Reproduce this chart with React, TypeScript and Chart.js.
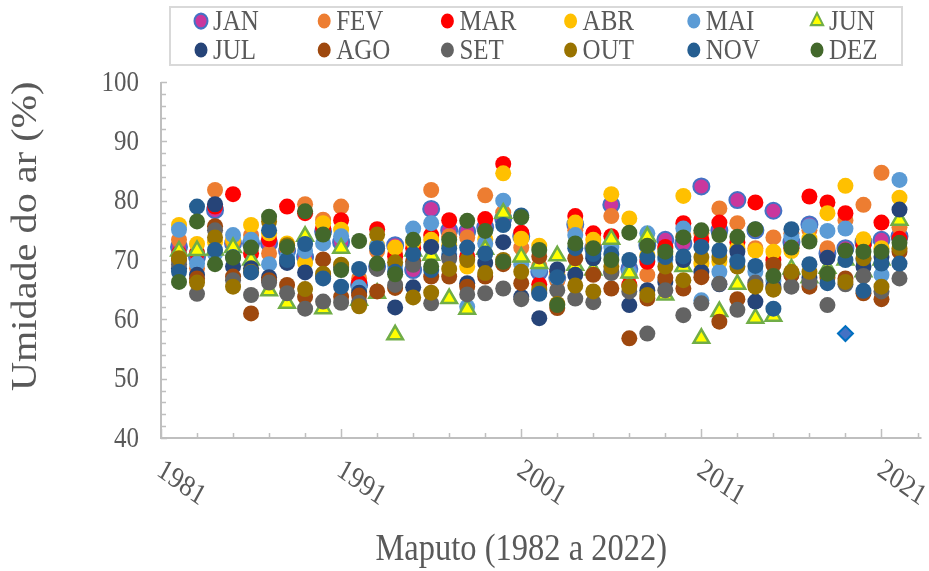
import React, { useEffect, useRef } from "react";
import { Chart, registerables } from "chart.js";
import { drawPoint } from "chart.js/helpers";

Chart.register(...registerables);

// ---------- DATA ----------
const YEARS = [
  1982, 1983, 1984, 1985, 1986, 1987, 1988, 1989, 1990, 1991,
  1992, 1993, 1994, 1995, 1996, 1997, 1998, 1999, 2000, 2001,
  2002, 2003, 2004, 2005, 2006, 2007, 2008, 2009, 2010, 2011,
  2012, 2013, 2014, 2015, 2016, 2017, 2018, 2019, 2020, 2021, 2022,
];

const MONTHS = ["JAN", "FEV", "MAR", "ABR", "MAI", "JUN", "JUL", "AGO", "SET", "OUT", "NOV", "DEZ"];

const JAN = [72.2, 70.5, 78.4, 72.8, 72.8, 72.8, 71.5, 70.5, 74.8, 73.0, 65.8, 68.9, 72.5, 68.3, 78.6, 75.0, 74.8, 75.5, 77.0, 74.0, 68.0, 67.0, 76.0, 72.0, 79.3, 68.5, 72.5, 73.4, 72.8, 82.4, 75.0, 80.1, 75.0, 78.3, 73.0, 76.0, 71.1, 72.0, 73.0, 73.4, 74.0];
const FEV = [73.4, 68.6, 81.8, 73.0, 74.2, 71.1, 72.0, 79.4, 76.8, 79.0, 66.9, 71.5, 71.0, 73.0, 81.8, 74.0, 73.8, 80.9, 78.0, 72.1, 69.0, 66.5, 75.0, 72.5, 77.4, 67.5, 67.5, 72.0, 74.0, 74.5, 78.7, 76.2, 72.0, 73.8, 74.5, 75.0, 72.0, 76.7, 79.3, 84.7, 75.5];
const MAR = [71.1, 71.2, 79.0, 81.1, 71.1, 73.5, 79.0, 77.9, 75.3, 76.7, 66.2, 75.2, 70.6, 72.0, 74.2, 76.7, 70.6, 76.9, 86.2, 74.6, 65.9, 68.0, 77.4, 74.5, 74.0, 65.8, 69.7, 72.2, 76.2, 73.4, 76.3, 73.0, 79.7, 70.0, 72.0, 80.7, 79.7, 77.9, 72.5, 76.3, 73.6];
const ABR = [75.9, 72.7, 73.0, 73.4, 75.9, 74.5, 72.8, 69.5, 76.2, 75.1, 65.0, 72.5, 72.1, 73.0, 73.4, 72.5, 68.9, 73.5, 84.6, 73.6, 72.4, 67.5, 76.3, 73.4, 81.1, 77.0, 70.8, 71.0, 80.8, 69.4, 69.7, 72.0, 71.6, 71.4, 71.5, 73.6, 77.9, 82.5, 73.5, 72.0, 80.5];
const MAI = [75.1, 69.4, 71.1, 74.2, 73.4, 69.3, 70.5, 71.5, 72.8, 74.0, 65.4, 72.3, 69.0, 75.3, 76.2, 71.0, 62.1, 72.8, 80.0, 69.3, 68.3, 67.0, 74.2, 70.5, 72.2, 68.0, 74.5, 70.0, 75.3, 63.2, 68.0, 70.0, 68.0, 66.5, 73.9, 75.7, 74.9, 75.3, 70.0, 67.5, 83.5];
const JUN = [71.5, 71.6, 71.7, 72.1, 70.0, 64.8, 62.7, 74.0, 61.8, 72.0, 63.2, 64.4, 57.4, 71.5, 70.8, 63.5, 61.7, 71.8, 77.9, 70.5, 69.4, 70.7, 69.1, 68.3, 73.5, 67.8, 73.9, 64.1, 68.9, 56.8, 61.3, 65.9, 60.2, 60.5, 68.5, 67.0, 68.6, 70.0, 68.0, 70.0, 76.7];
const JUL = [68.6, 67.5, 79.4, 68.9, 68.6, 67.1, 69.5, 67.9, 67.2, 68.8, 64.5, 69.0, 62.0, 65.4, 72.2, 70.5, 66.1, 69.5, 73.0, 63.8, 60.2, 68.4, 67.5, 70.3, 68.0, 62.4, 64.9, 66.3, 70.0, 68.0, 65.9, 71.4, 63.0, 65.5, 67.5, 67.0, 70.4, null, 68.9, 70.5, 78.5];
const AGO = [70.0, 66.9, 75.7, 67.2, 61.0, 66.6, 65.8, 63.8, 70.1, 63.8, 64.0, 64.7, 65.3, 69.8, 67.2, 67.2, 65.5, 67.2, 69.3, 66.1, 70.6, 61.9, 70.3, 67.5, 65.2, 56.8, 63.5, 67.0, 65.2, 67.1, 59.6, 63.4, 65.8, 69.2, 67.5, 65.5, 67.0, 66.9, 64.4, 63.4, 71.4];
const SET = [69.3, 64.3, 75.0, 66.6, 64.1, 66.2, 64.4, 61.8, 63.0, 62.8, 62.8, 68.5, 65.8, 69.2, 62.7, 70.2, 64.2, 64.4, 65.2, 63.4, 64.5, 64.9, 63.5, 62.9, 67.8, 64.7, 57.6, 64.9, 60.7, 62.7, 66.0, 61.6, 66.2, 65.2, 65.5, 66.3, 62.4, 65.9, 67.3, 64.7, 66.9];
const OUT = [70.3, 66.2, 73.8, 65.5, 68.0, 76.5, 72.5, 65.1, 67.7, 69.2, 62.2, 74.3, 69.6, 63.7, 64.5, 68.5, 70.0, 67.8, 70.0, 68.0, 65.0, 62.6, 65.7, 64.7, 68.9, 65.5, 64.1, 68.9, 66.6, 70.5, 70.5, 68.9, 65.5, 65.0, 68.0, 68.0, 67.5, 66.3, 70.3, 65.5, 72.0];
const NOV = [68.0, 79.0, 71.7, 70.5, 67.9, 75.0, 70.0, 72.7, 66.9, 65.5, 68.5, 72.0, 68.0, 71.0, 68.3, 72.0, 72.1, 71.1, 75.9, 77.5, 64.3, 67.1, 72.0, 71.0, 71.0, 70.0, 70.5, 70.5, 70.6, 72.2, 71.6, 69.7, 69.0, 61.8, 75.2, 69.3, 66.1, 70.0, 64.8, 69.4, 69.4];
const DEZ = [66.3, 76.5, 69.3, 70.4, 72.1, 77.3, 72.2, 78.2, 74.3, 68.3, 73.2, 69.4, 67.6, 73.4, 68.9, 73.4, 76.6, 74.9, 69.7, 77.2, 71.7, 62.4, 72.8, 72.0, 70.0, 74.6, 72.4, 71.4, 73.8, 75.0, 74.2, 73.9, 75.2, 67.3, 72.1, 73.1, 67.7, 71.6, 71.4, 71.4, 72.9];

// lone diamond-shaped point
const EXTRA_YEAR = [2019];
const EXTRA_VALUE = [57.6];

const SERIES = [JAN, FEV, MAR, ABR, MAI, JUN, JUL, AGO, SET, OUT, NOV, DEZ];

const X_MIN = 1981;
const X_MAX = 2023;
const X_LABELS = [1981, 1991, 2001, 2011, 2021];
const Y_MIN = 40;
const Y_MAX = 100;
const Y_LABELS = [40, 50, 60, 70, 80, 90, 100];

const X_TITLE = "Maputo (1982 a 2022)";
const Y_TITLE = "Umidade do ar (%)";

// ---------- STYLE ----------
const FILL = ["#C9379D", "#ED7D31", "#FF0000", "#FFC000", "#5B9BD5", "#FFFF00", "#264478", "#9E480E", "#636363", "#997300", "#255E91", "#43682B"];
const FONT = "'Liberation Serif', 'Times New Roman', serif";
const TEXT = "#595959";
const AXIS = "#BFBFBF";
const SY = 1.15; // vertical stretch of the text in the reference

function styleFor(i: number) {
  if (i === 0) return { pointStyle: "circle", radius: 8, borderColor: "#4472C4", borderWidth: 2 };
  if (i === 5) return { pointStyle: "triangle", radius: 9, borderColor: "#70AD47", borderWidth: 2.5 };
  return { pointStyle: "circle", radius: 8, borderColor: FILL[i], borderWidth: 0 };
}

function stretchedText(ctx: CanvasRenderingContext2D, text: string, x: number, y: number, angle = 0) {
  ctx.save();
  ctx.translate(x, y);
  ctx.scale(1, SY);
  if (angle) ctx.rotate(angle);
  ctx.fillText(text, 0, 0);
  ctx.restore();
}

const decorPlugin = {
  id: "decor",
  beforeDatasetsDraw(chart: any) {
    const { ctx, chartArea: a, scales } = chart;
    const x = scales.x;
    const y = scales.y;
    ctx.save();
    ctx.strokeStyle = AXIS;
    ctx.lineWidth = 2;
    ctx.beginPath();
    ctx.moveTo(a.left, a.top);
    ctx.lineTo(a.left, a.bottom);
    ctx.lineTo(a.right + 4, a.bottom);
    ctx.stroke();

    ctx.lineWidth = 1.5;
    for (let v = Y_MIN; v <= Y_MAX; v += 2) {
      const py = Math.round(y.getPixelForValue(v)) + 0.5;
      const len = v % 10 === 0 ? 6 : 5;
      ctx.beginPath();
      ctx.moveTo(a.left, py);
      ctx.lineTo(a.left + len, py);
      ctx.stroke();
    }
    for (let v = X_MIN; v <= X_MAX; v += 2) {
      const px = Math.round(x.getPixelForValue(v)) + 0.5;
      const len = (v - X_MIN) % 10 === 0 ? 9 : 5;
      ctx.beginPath();
      ctx.moveTo(px, a.bottom);
      ctx.lineTo(px, a.bottom - len);
      ctx.stroke();
    }

    ctx.fillStyle = TEXT;
    ctx.font = `25px ${FONT}`;
    ctx.textAlign = "right";
    ctx.textBaseline = "middle";
    Y_LABELS.forEach((v) => {
      stretchedText(ctx, String(v), a.left - 22, y.getPixelForValue(v) + 1);
    });
    ctx.font = `26px ${FONT}`;
    ctx.textAlign = "left";
    ctx.textBaseline = "top";
    X_LABELS.forEach((v) => {
      const px = x.getPixelForValue(v);
      stretchedText(ctx, String(v), px + 5, a.bottom + 17, (32 * Math.PI) / 180);
    });
    ctx.font = `32.5px ${FONT}`;
    ctx.textAlign = "center";
    ctx.textBaseline = "middle";
    stretchedText(ctx, X_TITLE, x.getPixelForValue(2001), a.bottom + 112);
    ctx.font = `35px ${FONT}`;
    stretchedText(ctx, Y_TITLE, a.left - 134, y.getPixelForValue(74), -Math.PI / 2);
    ctx.restore();
  },
  afterDraw(chart: any) {
    const { ctx } = chart;
    ctx.save();
    ctx.strokeStyle = "#D9D9D9";
    ctx.lineWidth = 2;
    ctx.strokeRect(170, 7, 732, 58);
    ctx.font = `25px ${FONT}`;
    ctx.textAlign = "left";
    ctx.textBaseline = "middle";
    MONTHS.forEach((m, i) => {
      const ds = chart.data.datasets[i];
      const col = i % 6;
      const row = Math.floor(i / 6);
      const mx = 201 + col * 123.2;
      const my = row === 0 ? 21 : 50;
      ctx.save();
      ctx.translate(mx, my);
      ctx.scale(1, SY);
      ctx.fillStyle = ds.backgroundColor;
      ctx.strokeStyle = ds.borderColor;
      drawPoint(ctx, { pointStyle: ds.pointStyle, radius: i === 5 ? 7 : 6.5, borderWidth: ds.borderWidth, rotation: 0 }, 0, 0);
      ctx.restore();
      ctx.fillStyle = TEXT;
      stretchedText(ctx, m, mx + 12, my + 1);
    });
    ctx.restore();
  },
};

export default function App() {
  const ref = useRef<HTMLCanvasElement | null>(null);

  useEffect(() => {
    document.body.style.margin = "0";
    const canvas = ref.current;
    if (!canvas) return;

    const datasets: any[] = SERIES.map((vals, i) => {
      const s = styleFor(i);
      return {
        label: MONTHS[i],
        data: YEARS.map((yr, k) => ({ x: yr, y: vals[k] })),
        backgroundColor: FILL[i],
        borderColor: s.borderColor,
        borderWidth: s.borderWidth,
        pointStyle: s.pointStyle,
        pointRadius: s.radius,
        pointHoverRadius: s.radius,
        order: SERIES.length - i + 1,
      };
    });
    datasets.push({
      label: "extra",
      data: EXTRA_YEAR.map((yr, k) => ({ x: yr, y: EXTRA_VALUE[k] })),
      backgroundColor: "#4472C4",
      borderColor: "#0070C0",
      borderWidth: 2,
      pointStyle: "rectRot",
      pointRadius: 7.5,
      order: 0,
    });

    const chart = new Chart(canvas, {
      type: "scatter",
      data: { datasets },
      options: {
        animation: false,
        responsive: false,
        devicePixelRatio: 1,
        layout: { padding: { left: 161, right: 8, top: 82, bottom: 133 } },
        plugins: { legend: { display: false }, tooltip: { enabled: false } },
        scales: {
          x: { type: "linear", min: X_MIN, max: X_MAX, display: false },
          y: { type: "linear", min: Y_MIN, max: Y_MAX, display: false },
        },
      },
      plugins: [decorPlugin],
    });
    return () => chart.destroy();
  }, []);

  return (
    <div style={{ width: 929, height: 571, background: "#fff" }}>
      <canvas ref={ref} width={929} height={571} />
    </div>
  );
}
